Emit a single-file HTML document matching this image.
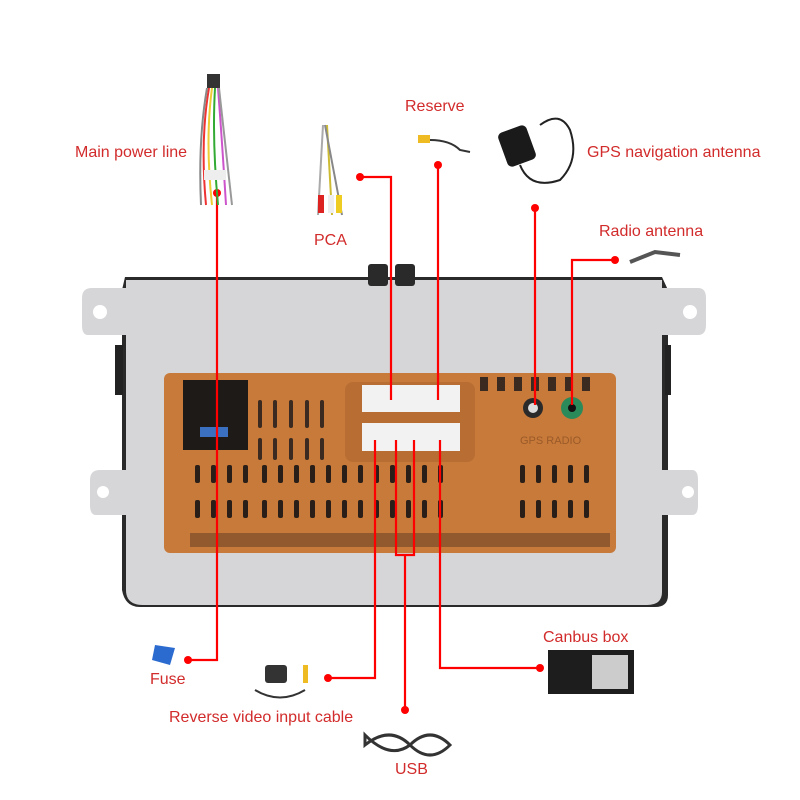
<!DOCTYPE html>
<html><head><meta charset="utf-8"><style>
html,body{margin:0;padding:0;background:#fff}
svg{display:block}
text{font-family:"Liberation Sans",sans-serif;font-size:16px;fill:#d22b2b}
</style></head><body>
<svg width="800" height="800" viewBox="0 0 800 800" xmlns="http://www.w3.org/2000/svg">
<!-- plate -->
<path d="M125 277 H662 L668 290 V595 Q668 607 655 607 H140 Q125 607 122 590 V290 Z" fill="#2a2a2a"/>
<path d="M126 280 H662 V592 Q662 605 647 605 H143 Q126 605 126 590 Z" fill="#d6d6d8"/>
<path d="M88 288 H128 V335 H88 Q82 335 82 325 V298 Q82 288 92 288 Z" fill="#d6d6d8"/>
<circle cx="100" cy="312" r="7" fill="#fff"/>
<path d="M660 288 H698 Q706 288 706 298 V325 Q706 335 698 335 H660 Z" fill="#d6d6d8"/>
<circle cx="690" cy="312" r="7" fill="#fff"/>
<path d="M96 470 H128 V515 H96 Q90 515 90 505 V480 Q90 470 100 470 Z" fill="#d6d6d8"/>
<circle cx="103" cy="492" r="6" fill="#fff"/>
<path d="M660 470 H692 Q698 470 698 480 V505 Q698 515 692 515 H660 Z" fill="#d6d6d8"/>
<circle cx="688" cy="492" r="6" fill="#fff"/>
<rect x="115" y="345" width="8" height="50" fill="#222"/>
<rect x="665" y="345" width="6" height="50" fill="#222"/>
<rect x="368" y="264" width="20" height="22" rx="3" fill="#2a2a2a"/>
<rect x="395" y="264" width="20" height="22" rx="3" fill="#2a2a2a"/>
<!-- orange body -->
<rect x="164" y="373" width="452" height="180" rx="6" fill="#c87a3a"/>
<rect x="183" y="380" width="65" height="70" fill="#1e1a18"/>
<rect x="200" y="427" width="28" height="10" fill="#3b6fc0"/>
<g fill="#3a2a20">
<rect x="258" y="400" width="4" height="28" rx="2"/><rect x="273" y="400" width="4" height="28" rx="2"/><rect x="289" y="400" width="4" height="28" rx="2"/><rect x="305" y="400" width="4" height="28" rx="2"/><rect x="320" y="400" width="4" height="28" rx="2"/>
<rect x="258" y="438" width="4" height="22" rx="2"/><rect x="273" y="438" width="4" height="22" rx="2"/><rect x="289" y="438" width="4" height="22" rx="2"/><rect x="305" y="438" width="4" height="22" rx="2"/><rect x="320" y="438" width="4" height="22" rx="2"/>
</g>
<rect x="345" y="382" width="130" height="80" rx="8" fill="#b86e32"/>
<rect x="362" y="385" width="98" height="27" fill="#f2f2f2"/>
<rect x="362" y="423" width="98" height="28" fill="#f2f2f2"/>
<circle cx="533" cy="408" r="10" fill="#2a2a2a"/><circle cx="533" cy="408" r="5" fill="#ddd"/>
<circle cx="572" cy="408" r="11" fill="#2a8a5a"/><circle cx="572" cy="408" r="4" fill="#111"/>
<text x="520" y="444" style="font-size:11px;fill:#9a5a28">GPS RADIO</text>
<g fill="#3a2a20">
<rect x="480" y="377" width="8" height="14"/><rect x="497" y="377" width="8" height="14"/><rect x="514" y="377" width="8" height="14"/><rect x="531" y="377" width="8" height="14"/><rect x="548" y="377" width="8" height="14"/><rect x="565" y="377" width="8" height="14"/><rect x="582" y="377" width="8" height="14"/>
</g>
<g id="v" fill="#2a1e18">
<rect x="195" y="465" width="5" height="18" rx="2"/><rect x="211" y="465" width="5" height="18" rx="2"/><rect x="227" y="465" width="5" height="18" rx="2"/><rect x="243" y="465" width="5" height="18" rx="2"/><rect x="262" y="465" width="5" height="18" rx="2"/><rect x="278" y="465" width="5" height="18" rx="2"/><rect x="294" y="465" width="5" height="18" rx="2"/><rect x="310" y="465" width="5" height="18" rx="2"/><rect x="326" y="465" width="5" height="18" rx="2"/><rect x="342" y="465" width="5" height="18" rx="2"/><rect x="358" y="465" width="5" height="18" rx="2"/><rect x="374" y="465" width="5" height="18" rx="2"/><rect x="390" y="465" width="5" height="18" rx="2"/><rect x="406" y="465" width="5" height="18" rx="2"/><rect x="422" y="465" width="5" height="18" rx="2"/><rect x="438" y="465" width="5" height="18" rx="2"/><rect x="520" y="465" width="5" height="18" rx="2"/><rect x="536" y="465" width="5" height="18" rx="2"/><rect x="552" y="465" width="5" height="18" rx="2"/><rect x="568" y="465" width="5" height="18" rx="2"/><rect x="584" y="465" width="5" height="18" rx="2"/>
</g>
<use href="#v" y="35"/>
<rect x="190" y="533" width="420" height="14" fill="#2a1e18" opacity="0.35"/>
<!-- red connectors -->
<g stroke="#f00" stroke-width="2.2" fill="none">
<polyline points="217,193 217,660 188,660"/>
<polyline points="360,177 391,177 391,400"/>
<line x1="438" y1="165" x2="438" y2="400"/>
<line x1="535" y1="208" x2="535" y2="405"/>
<polyline points="615,260 572,260 572,405"/>
<polyline points="375,440 375,678 328,678"/>
<polyline points="396,440 396,555 414,555 414,440"/>
<line x1="405" y1="555" x2="405" y2="710"/>
<polyline points="440,440 440,668 540,668"/>
</g>
<g fill="#f00">
<circle cx="217" cy="193" r="4"/><circle cx="360" cy="177" r="4"/><circle cx="438" cy="165" r="4"/><circle cx="535" cy="208" r="4"/><circle cx="615" cy="260" r="4"/><circle cx="188" cy="660" r="4"/><circle cx="328" cy="678" r="4"/><circle cx="405" cy="710" r="4"/><circle cx="540" cy="668" r="4"/>
</g>
<!-- accessories -->
<rect x="207" y="74" width="13" height="14" fill="#333"/>
<g stroke-width="2" fill="none"><path d="M209 88 Q200 140 206 205" stroke="#e33"/><path d="M212 88 Q205 140 212 205" stroke="#ec3"/><path d="M215 88 Q212 140 218 205" stroke="#3a3"/><path d="M218 88 Q222 140 226 205" stroke="#c5c"/><path d="M207 88 Q198 140 201 205" stroke="#888"/><path d="M219 88 Q225 140 232 205" stroke="#999"/></g>
<rect x="204" y="170" width="22" height="10" fill="#eee"/>
<g stroke-width="2"><line x1="323" y1="125" x2="318" y2="215" stroke="#aaa"/><line x1="327" y1="125" x2="332" y2="215" stroke="#cb3"/><line x1="325" y1="125" x2="342" y2="215" stroke="#888"/></g>
<rect x="318" y="195" width="6" height="18" fill="#d22"/><rect x="328" y="195" width="6" height="18" fill="#eee"/><rect x="336" y="195" width="6" height="18" fill="#ec2"/>
<rect x="418" y="135" width="12" height="8" fill="#eb2"/><path d="M430 140 Q450 140 460 150 L470 152" stroke="#333" stroke-width="2" fill="none"/>
<rect x="502" y="128" width="30" height="36" rx="5" transform="rotate(-20 517 146)" fill="#1a1a1a"/>
<path d="M520 165 Q530 190 560 180 Q580 160 570 130 Q560 110 540 125" stroke="#222" stroke-width="2" fill="none"/>
<path d="M630 262 L655 252 L680 255" stroke="#555" stroke-width="4" fill="none"/>
<path d="M155 645 L175 648 L170 665 L152 660 Z" fill="#2b6bd0"/>
<rect x="265" y="665" width="22" height="18" rx="3" fill="#333"/><path d="M255 690 Q280 705 305 690" stroke="#333" stroke-width="2" fill="none"/><rect x="303" y="665" width="5" height="18" fill="#eb2"/>
<path d="M365 735 Q390 760 410 745 Q430 725 450 745 Q430 765 410 745 Q390 725 365 745 Z" stroke="#333" stroke-width="3" fill="none"/>
<rect x="548" y="650" width="86" height="44" fill="#1d1d1d"/><rect x="592" y="655" width="36" height="34" fill="#ccc"/>
<!-- labels -->
<text x="75" y="157">Main power line</text>
<text x="405" y="111">Reserve</text>
<text x="587" y="157">GPS navigation antenna</text>
<text x="314" y="245">PCA</text>
<text x="599" y="236">Radio antenna</text>
<text x="543" y="642">Canbus box</text>
<text x="150" y="684">Fuse</text>
<text x="169" y="722">Reverse video input cable</text>
<text x="395" y="774">USB</text>
</svg>
</body></html>
